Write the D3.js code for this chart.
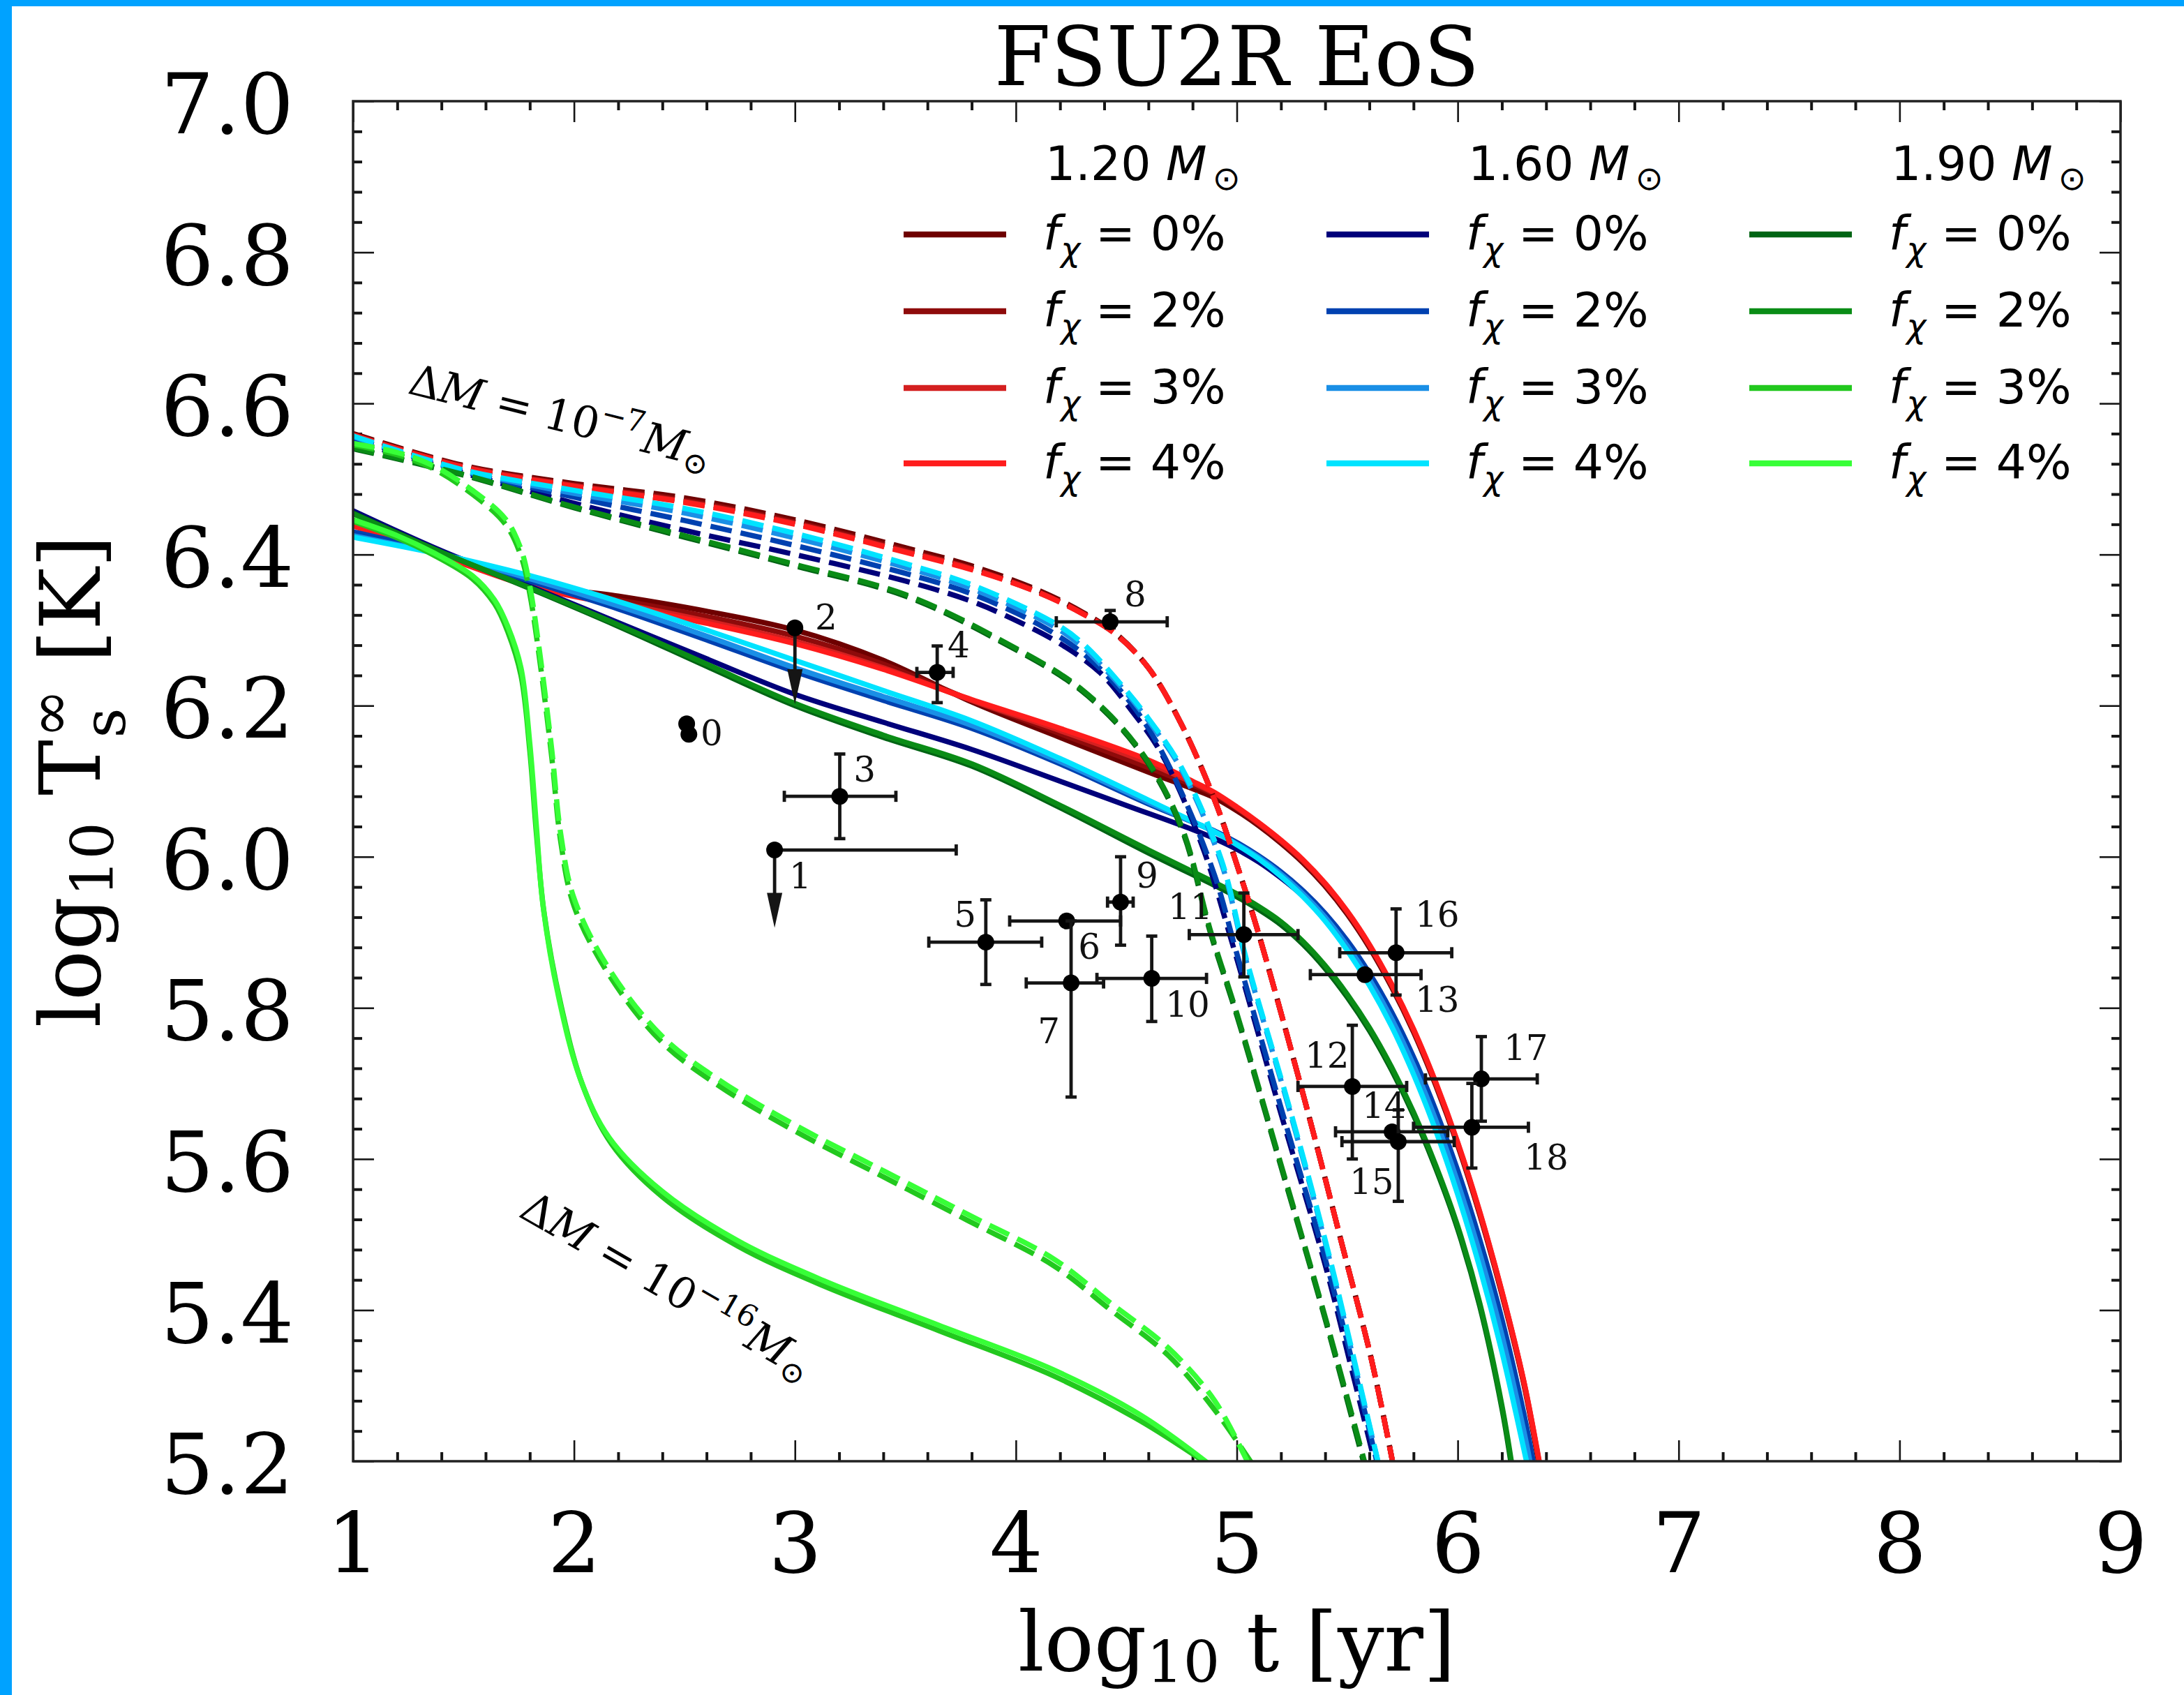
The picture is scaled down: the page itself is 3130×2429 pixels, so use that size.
<!DOCTYPE html>
<html>
<head>
<meta charset="utf-8">
<script src="https://cdn.jsdelivr.net/npm/d3@7"></script>
<style>
  html, body { margin: 0; padding: 0; background: #ffffff; }
  svg { display: block; }
</style>
</head>
<body>
<svg id="chart" width="3130" height="2429"></svg>
<script>
// ---------------- axis ticks ----------------
const xTickValues = [1, 2, 3, 4, 5, 6, 7, 8, 9];
const yTickValues = [5.2, 5.4, 5.6, 5.8, 6.0, 6.2, 6.4, 6.6, 6.8, 7.0];

// ---------------- legend categories ----------------
const starMasses = ["1.20", "1.60", "1.90"];
const darkFractions = ["0%", "2%", "3%", "4%"];

// ---------------- cooling tracks, envelope ΔM = 1e-16 Msun (solid) ----------------
// [log10 t (yr), log10 Ts (K)]
const solid_120_0 = [[1.0,6.445],[1.4,6.402],[1.8,6.362],[2.2,6.345],[2.6,6.325],[3.0,6.300],[3.4,6.260],[3.8,6.205],[4.2,6.158],[4.6,6.112],[4.8,6.090],[4.9,6.078],[5.0,6.061],[5.1,6.041],[5.2,6.018],[5.3,5.992],[5.4,5.961],[5.5,5.924],[5.6,5.880],[5.7,5.828],[5.8,5.768],[5.9,5.698],[6.0,5.618],[6.1,5.526],[6.2,5.421],[6.3,5.301],[6.368,5.195]];
const solid_120_2 = [[1.0,6.443],[1.4,6.400],[1.8,6.360],[2.2,6.340],[2.6,6.318],[3.0,6.292],[3.4,6.255],[3.8,6.207],[4.2,6.163],[4.6,6.118],[4.8,6.095],[4.9,6.082],[5.0,6.064],[5.1,6.043],[5.2,6.020],[5.3,5.994],[5.4,5.963],[5.5,5.926],[5.6,5.882],[5.7,5.830],[5.8,5.770],[5.9,5.700],[6.0,5.620],[6.1,5.528],[6.2,5.423],[6.3,5.303],[6.37,5.195]];
const solid_120_3 = [[1.0,6.440],[1.4,6.399],[1.8,6.359],[2.2,6.336],[2.6,6.312],[3.0,6.285],[3.4,6.250],[3.8,6.207],[4.2,6.167],[4.6,6.124],[4.8,6.098],[4.9,6.084],[5.0,6.065],[5.1,6.044],[5.2,6.021],[5.3,5.995],[5.4,5.964],[5.5,5.927],[5.6,5.883],[5.7,5.831],[5.8,5.771],[5.9,5.701],[6.0,5.621],[6.1,5.529],[6.2,5.424],[6.3,5.304],[6.371,5.195]];
const solid_120_4 = [[1.0,6.438],[1.4,6.398],[1.8,6.358],[2.2,6.333],[2.6,6.309],[3.0,6.282],[3.4,6.248],[3.8,6.208],[4.2,6.170],[4.6,6.128],[4.8,6.100],[4.9,6.085],[5.0,6.066],[5.1,6.045],[5.2,6.022],[5.3,5.996],[5.4,5.965],[5.5,5.928],[5.6,5.884],[5.7,5.832],[5.8,5.772],[5.9,5.702],[6.0,5.622],[6.1,5.530],[6.2,5.425],[6.3,5.305],[6.372,5.195]];

const solid_160_0 = [[1.0,6.458],[1.4,6.405],[1.8,6.358],[2.2,6.310],[2.6,6.262],[3.0,6.215],[3.4,6.178],[3.8,6.142],[4.2,6.100],[4.5,6.068],[4.8,6.036],[4.9,6.024],[5.0,6.010],[5.1,5.993],[5.2,5.972],[5.3,5.948],[5.4,5.918],[5.5,5.882],[5.6,5.838],[5.7,5.786],[5.8,5.725],[5.9,5.654],[6.0,5.572],[6.1,5.478],[6.2,5.370],[6.3,5.240],[6.33,5.195]];
const solid_160_2 = [[1.0,6.430],[1.4,6.402],[1.8,6.365],[2.2,6.328],[2.6,6.287],[3.0,6.245],[3.4,6.207],[3.8,6.170],[4.2,6.123],[4.6,6.070],[4.8,6.046],[4.9,6.034],[5.0,6.019],[5.1,6.001],[5.2,5.980],[5.3,5.955],[5.4,5.925],[5.5,5.889],[5.6,5.846],[5.7,5.795],[5.8,5.735],[5.9,5.665],[6.0,5.585],[6.1,5.493],[6.2,5.388],[6.3,5.262],[6.345,5.195]];
const solid_160_3 = [[1.0,6.425],[1.4,6.400],[1.8,6.368],[2.2,6.332],[2.6,6.292],[3.0,6.250],[3.4,6.212],[3.8,6.174],[4.2,6.126],[4.6,6.072],[4.8,6.046],[4.9,6.033],[5.0,6.017],[5.1,5.999],[5.2,5.977],[5.3,5.951],[5.4,5.920],[5.5,5.882],[5.6,5.838],[5.7,5.786],[5.8,5.724],[5.9,5.652],[6.0,5.569],[6.1,5.475],[6.2,5.367],[6.3,5.239],[6.33,5.195]];
const solid_160_4 = [[1.0,6.423],[1.4,6.400],[1.8,6.372],[2.2,6.338],[2.6,6.300],[3.0,6.260],[3.4,6.220],[3.8,6.180],[4.2,6.130],[4.6,6.075],[4.8,6.047],[4.9,6.033],[5.0,6.016],[5.1,5.997],[5.2,5.974],[5.3,5.947],[5.4,5.915],[5.5,5.876],[5.6,5.830],[5.7,5.776],[5.8,5.712],[5.9,5.638],[6.0,5.553],[6.1,5.456],[6.2,5.345],[6.3,5.215],[6.315,5.195]];

const solid_190_0 = [[1.0,6.455],[1.4,6.403],[1.8,6.355],[2.2,6.305],[2.6,6.252],[3.0,6.200],[3.4,6.158],[3.8,6.120],[4.2,6.065],[4.6,6.005],[4.9,5.962],[5.0,5.947],[5.1,5.930],[5.2,5.910],[5.3,5.884],[5.4,5.852],[5.5,5.814],[5.6,5.770],[5.7,5.718],[5.8,5.658],[5.9,5.588],[6.0,5.507],[6.1,5.405],[6.2,5.270],[6.245,5.190]];
const solid_190_2 = [[1.0,6.454],[1.4,6.403],[1.8,6.356],[2.2,6.307],[2.6,6.255],[3.0,6.203],[3.4,6.161],[3.8,6.123],[4.2,6.068],[4.6,6.009],[4.9,5.966],[5.0,5.951],[5.1,5.934],[5.2,5.914],[5.3,5.888],[5.4,5.856],[5.5,5.818],[5.6,5.774],[5.7,5.722],[5.8,5.662],[5.9,5.592],[6.0,5.511],[6.1,5.409],[6.2,5.274],[6.248,5.190]];
const solid_190_3 = [[1.0,6.444],[1.2,6.422],[1.36,6.400],[1.54,6.368],[1.64,6.335],[1.70,6.298],[1.76,6.240],[1.80,6.140],[1.83,6.030],[1.865,5.925],[1.94,5.805],[2.04,5.697],[2.17,5.620],[2.4,5.550],[2.74,5.485],[3.13,5.432],[3.65,5.373],[4.17,5.313],[4.56,5.254],[4.9,5.190]];
const solid_190_4 = [[1.0,6.446],[1.2,6.425],[1.36,6.403],[1.54,6.372],[1.64,6.340],[1.70,6.305],[1.76,6.250],[1.80,6.150],[1.83,6.040],[1.86,5.935],[1.93,5.815],[2.03,5.705],[2.16,5.628],[2.4,5.557],[2.74,5.492],[3.13,5.439],[3.65,5.380],[4.17,5.321],[4.56,5.262],[4.88,5.195]];

// ---------------- cooling tracks, envelope ΔM = 1e-7 Msun (dashed) ----------------
const dashed_120_0 = [[1.0,6.560],[1.5,6.518],[2.0,6.494],[2.5,6.475],[3.0,6.446],[3.5,6.409],[3.8,6.385],[4.1,6.353],[4.3,6.324],[4.45,6.296],[4.6,6.250],[4.75,6.175],[4.9,6.075],[5.0,5.990],[5.1,5.897],[5.33,5.653],[5.47,5.494],[5.61,5.334],[5.71,5.192]];
const dashed_120_2 = [[1.0,6.559],[1.5,6.517],[2.0,6.492],[2.5,6.472],[3.0,6.443],[3.5,6.406],[3.8,6.382],[4.1,6.351],[4.3,6.323],[4.45,6.295],[4.6,6.250],[4.75,6.175],[4.9,6.075],[5.0,5.990],[5.1,5.897],[5.33,5.653],[5.47,5.494],[5.61,5.334],[5.71,5.192]];
const dashed_120_3 = [[1.0,6.558],[1.5,6.516],[2.0,6.491],[2.5,6.470],[3.0,6.441],[3.5,6.404],[3.8,6.381],[4.1,6.350],[4.3,6.322],[4.45,6.295],[4.6,6.250],[4.75,6.175],[4.9,6.075],[5.0,5.990],[5.1,5.897],[5.33,5.653],[5.47,5.494],[5.61,5.334],[5.71,5.192]];
const dashed_120_4 = [[1.0,6.558],[1.5,6.515],[2.0,6.490],[2.5,6.469],[3.0,6.440],[3.5,6.403],[3.8,6.380],[4.1,6.350],[4.3,6.322],[4.45,6.295],[4.6,6.250],[4.75,6.175],[4.9,6.075],[5.0,5.990],[5.1,5.897],[5.33,5.653],[5.47,5.494],[5.61,5.334],[5.71,5.192]];

const dashed_160_0 = [[1.0,6.550],[1.5,6.508],[2.0,6.468],[2.5,6.432],[3.0,6.400],[3.5,6.365],[3.8,6.338],[4.02,6.310],[4.2,6.282],[4.38,6.244],[4.52,6.195],[4.66,6.136],[4.84,6.017],[4.98,5.885],[5.2,5.660],[5.4,5.460],[5.53,5.310],[5.63,5.192]];
const dashed_160_2 = [[1.0,6.554],[1.5,6.510],[2.0,6.476],[2.5,6.445],[3.0,6.412],[3.5,6.375],[3.8,6.348],[4.1,6.308],[4.3,6.270],[4.45,6.228],[4.6,6.170],[4.75,6.085],[4.9,5.975],[5.0,5.872],[5.2,5.668],[5.4,5.468],[5.54,5.312],[5.64,5.192]];
const dashed_160_3 = [[1.0,6.556],[1.5,6.511],[2.0,6.481],[2.5,6.455],[3.0,6.422],[3.5,6.383],[3.8,6.355],[4.17,6.305],[4.3,6.278],[4.47,6.227],[4.6,6.180],[4.75,6.115],[4.93,5.992],[5.04,5.865],[5.25,5.653],[5.42,5.467],[5.55,5.308],[5.645,5.192]];
const dashed_160_4 = [[1.0,6.557],[1.5,6.512],[2.0,6.485],[2.5,6.461],[3.0,6.428],[3.5,6.388],[3.8,6.360],[4.17,6.310],[4.3,6.283],[4.47,6.230],[4.6,6.183],[4.75,6.118],[4.93,5.996],[5.04,5.868],[5.25,5.656],[5.42,5.470],[5.55,5.311],[5.645,5.192]];

const dashed_190_0 = [[1.0,6.540],[1.5,6.505],[2.0,6.462],[2.5,6.423],[3.0,6.385],[3.5,6.345],[3.93,6.285],[4.3,6.219],[4.57,6.136],[4.75,6.037],[4.88,5.900],[5.0,5.790],[5.19,5.600],[5.40,5.388],[5.58,5.192]];
const dashed_190_2 = [[1.0,6.541],[1.5,6.506],[2.0,6.463],[2.5,6.425],[3.0,6.387],[3.5,6.347],[3.93,6.287],[4.3,6.221],[4.57,6.138],[4.75,6.040],[4.88,5.903],[5.0,5.793],[5.19,5.603],[5.40,5.391],[5.585,5.192]];
const dashed_190_3 = [[1.0,6.545],[1.2,6.532],[1.36,6.514],[1.54,6.480],[1.69,6.440],[1.76,6.398],[1.80,6.348],[1.85,6.249],[1.90,6.130],[1.94,6.020],[2.0,5.935],[2.16,5.843],[2.4,5.754],[2.66,5.696],[3.0,5.637],[3.39,5.578],[3.78,5.519],[4.17,5.459],[4.43,5.400],[4.69,5.340],[4.9,5.268],[5.08,5.192]];
const dashed_190_4 = [[1.0,6.547],[1.2,6.535],[1.36,6.518],[1.54,6.485],[1.69,6.447],[1.76,6.407],[1.80,6.358],[1.85,6.259],[1.90,6.140],[1.94,6.030],[2.0,5.945],[2.16,5.851],[2.4,5.762],[2.66,5.704],[3.0,5.645],[3.39,5.586],[3.78,5.527],[4.17,5.468],[4.43,5.409],[4.69,5.350],[4.9,5.280],[5.06,5.192]];

// ---------------- observed neutron stars ----------------
// [label, log t, log Ts, t low, t high, Ts low, Ts high, upper limit]
const observations = [
  ["0",  2.510, 6.176, null, null, null, null, false],
  [null, 2.520, 6.162, null, null, null, null, false],
  ["1",  2.908, 6.009, 2.908, 3.730, 5.906, null, true],
  ["2",  3.000, 6.303, null, null, 6.202, null, true],
  ["3",  3.203, 6.080, 2.952, 3.457, 6.024, 6.136, false],
  ["4",  3.644, 6.244, 3.552, 3.716, 6.204, 6.279, false],
  ["5",  3.864, 5.887, 3.606, 4.117, 5.831, 5.943, false],
  ["6",  4.230, 5.915, 3.972, 4.474, null, null, false],
  ["7",  4.250, 5.833, 4.047, 4.397, 5.682, 5.915, false],
  ["8",  4.427, 6.311, 4.183, 4.685, 6.303, 6.326, false],
  ["9",  4.474, 5.940, 4.415, 4.531, 5.883, 6.000, false],
  ["10", 4.615, 5.839, 4.367, 4.863, 5.782, 5.895, false],
  ["11", 5.032, 5.897, 4.785, 5.277, 5.841, 5.952, false],
  ["12", 5.523, 5.696, 5.277, 5.769, 5.600, 5.777, false],
  ["13", 5.580, 5.844, 5.333, 5.834, null, null, false],
  ["14", 5.703, 5.636, 5.447, 5.955, null, null, false],
  ["15", 5.731, 5.623, 5.476, 5.984, 5.544, 5.665, false],
  ["16", 5.721, 5.873, 5.466, 5.973, 5.817, 5.931, false],
  ["17", 6.107, 5.706, 5.854, 6.360, 5.650, 5.762, false],
  ["18", 6.064, 5.642, 5.800, 6.320, 5.588, 5.700, false]
];
// where each source number is written (left end, baseline) in data units
const observationLabelAt = {
  "0": [2.573, 6.148], "1": [2.974, 5.958], "2": [3.091, 6.301], "3": [3.265, 6.100],
  "4": [3.691, 6.264], "5": [3.720, 5.907], "6": [4.282, 5.865], "7": [4.099, 5.753],
  "8": [4.490, 6.331], "9": [4.544, 5.959], "10": [4.677, 5.788], "11": [4.689, 5.918],
  "12": [5.308, 5.721], "13": [5.807, 5.795], "14": [5.567, 5.654], "15": [5.510, 5.554],
  "16": [5.807, 5.907], "17": [6.208, 5.731], "18": [6.300, 5.586]
};

// envelope annotations: exponent, centre [log t, log Ts], rotation in degrees
const envelopeNotes = [
  { exp: "\u22127",  at: [1.938, 6.582], angle: 14 },
  { exp: "\u221216", at: [2.421, 5.432], angle: 30 }
];

// ---------------- styling ----------------
const palette = [
  ["#6e0000", "#8e0b0b", "#d42020", "#ff1c1c"],   // 1.20 Msun
  ["#00007a", "#0041b0", "#1a8fe6", "#00e3ff"],   // 1.60 Msun
  ["#006414", "#0a8c16", "#22c81e", "#37ff37"]    // 1.90 Msun
];

const solidTracks = [
  [solid_120_0, solid_120_2, solid_120_3, solid_120_4],
  [solid_160_0, solid_160_2, solid_160_3, solid_160_4],
  [solid_190_0, solid_190_2, solid_190_3, solid_190_4]
];
const dashedTracks = [
  [dashed_120_0, dashed_120_2, dashed_120_3, dashed_120_4],
  [dashed_160_0, dashed_160_2, dashed_160_3, dashed_160_4],
  [dashed_190_0, dashed_190_2, dashed_190_3, dashed_190_4]
];

const SERIF = "'DejaVu Serif', serif";
const SANS = "'DejaVu Sans', sans-serif";
const INK = "#151515";
const TRACK_WIDTH = 7.5;

// ---------------- layout ----------------
const W = 3130, H = 2429;
const X0 = 506, X1 = 3039, Y0 = 145, Y1 = 2094;

const svg = d3.select("#chart").attr("width", W).attr("height", H);
svg.append("rect").attr("width", W).attr("height", H).attr("fill", "#ffffff");
// page accent along the top and left edges
svg.append("rect").attr("x", 0).attr("y", 0).attr("width", W).attr("height", 9).attr("fill", "#00a2ff");
svg.append("rect").attr("x", 0).attr("y", 0).attr("width", 17).attr("height", H).attr("fill", "#00a2ff");

const x = d3.scaleLinear().domain([1, 9]).range([X0, X1]);
const y = d3.scaleLinear().domain([5.2, 7.0]).range([Y1, Y0]);

// ---------------- small helper for math-like labels ----------------
// runs: {s, it, sc (size factor), rise (em of base size, + up), dx (em), back (step back over previous run)}
function mathText(parent, runs, family, size) {
  const t = parent.append("text").attr("font-family", family).attr("font-size", size).attr("fill", "#000");
  let cur = 0, prev = null;
  runs.forEach(r => {
    const sz = size * (r.sc || 1);
    const rise = r.rise || 0;
    const ts = t.append("tspan").attr("font-size", sz).text(r.s);
    if (r.it) ts.attr("font-style", "italic");
    const dy = (cur - rise) * size;
    if (Math.abs(dy) > 1e-6) ts.attr("dy", dy);
    cur = rise;
    let dx = (r.dx || 0) * size;
    if (r.back && prev) dx -= prev.getComputedTextLength();
    if (dx) ts.attr("dx", dx);
    prev = ts.node();
  });
  return t;
}
function centerText(t) {
  const bb = t.node().getBBox();
  t.attr("x", -bb.width / 2);
  return t;
}

// ---------------- axes ----------------
const minorX = d3.range(1, 9.0001, 0.2).filter(v => Math.abs(v - Math.round(v)) > 1e-6);
const minorY = d3.range(5.2, 7.0001, 0.04).filter(v => Math.abs(v * 5 - Math.round(v * 5)) > 1e-6);

function styleTicks(g, w) {
  g.select(".domain").remove();
  g.selectAll("line").attr("stroke", INK).attr("stroke-width", w);
}

const axes = svg.append("g");
// major ticks with labels
const gB = axes.append("g").attr("transform", `translate(0,${Y1})`)
  .call(d3.axisBottom(x).tickValues(xTickValues).tickFormat(d3.format("d")).tickSizeInner(-30).tickSizeOuter(0).tickPadding(74));
const gL = axes.append("g").attr("transform", `translate(${X0},0)`)
  .call(d3.axisLeft(y).tickValues(yTickValues).tickFormat(d3.format(".1f")).tickSizeInner(-30).tickSizeOuter(0).tickPadding(85));
const gT = axes.append("g").attr("transform", `translate(0,${Y0})`)
  .call(d3.axisTop(x).tickValues(xTickValues).tickFormat("").tickSizeInner(-30).tickSizeOuter(0));
const gR = axes.append("g").attr("transform", `translate(${X1},0)`)
  .call(d3.axisRight(y).tickValues(yTickValues).tickFormat("").tickSizeInner(-30).tickSizeOuter(0));
[gB, gL, gT, gR].forEach(g => styleTicks(g, 2.6));
[gB, gL].forEach(g => g.selectAll("text").attr("font-family", SERIF).attr("font-size", 120).attr("fill", "#000"));
gL.selectAll("text").attr("dy", "0.38em");

// minor ticks
const mB = axes.append("g").attr("transform", `translate(0,${Y1})`)
  .call(d3.axisBottom(x).tickValues(minorX).tickFormat("").tickSizeInner(-13).tickSizeOuter(0));
const mT = axes.append("g").attr("transform", `translate(0,${Y0})`)
  .call(d3.axisTop(x).tickValues(minorX).tickFormat("").tickSizeInner(-13).tickSizeOuter(0));
const mL = axes.append("g").attr("transform", `translate(${X0},0)`)
  .call(d3.axisLeft(y).tickValues(minorY).tickFormat("").tickSizeInner(-13).tickSizeOuter(0));
const mR = axes.append("g").attr("transform", `translate(${X1},0)`)
  .call(d3.axisRight(y).tickValues(minorY).tickFormat("").tickSizeInner(-13).tickSizeOuter(0));
[mB, mT, mL, mR].forEach(g => styleTicks(g, 4));

// ---------------- cooling curves ----------------
svg.append("clipPath").attr("id", "plotClip")
  .append("rect").attr("x", X0).attr("y", Y0).attr("width", X1 - X0).attr("height", Y1 - Y0);
const plot = svg.append("g").attr("clip-path", "url(#plotClip)");

const line = d3.line().x(d => x(d[0])).y(d => y(d[1])).curve(d3.curveCatmullRom.alpha(0.5));

solidTracks.forEach((group, m) => group.forEach((track, f) => {
  plot.append("path").attr("d", line(track)).attr("fill", "none")
    .attr("stroke", palette[m][f]).attr("stroke-width", TRACK_WIDTH)
    .attr("stroke-linejoin", "round").attr("stroke-linecap", "butt");
}));
dashedTracks.forEach((group, m) => group.forEach((track, f) => {
  plot.append("path").attr("d", line(track)).attr("fill", "none")
    .attr("stroke", palette[m][f]).attr("stroke-width", TRACK_WIDTH)
    .attr("stroke-dasharray", "31,13").attr("stroke-linecap", "butt");
}));

// ---------------- observations ----------------
const obs = svg.append("g");
const CAP = 8, BAR = 4.8;
observations.forEach(o => {
  const [label, lt, lT, tLo, tHi, TLo, THi, upper] = o;
  const px = x(lt), py = y(lT);
  if (tLo !== null) {
    obs.append("line").attr("x1", x(tLo)).attr("x2", x(tHi)).attr("y1", py).attr("y2", py)
      .attr("stroke", INK).attr("stroke-width", BAR);
    [tLo, tHi].forEach(v => {
      if (v !== lt) obs.append("line").attr("x1", x(v)).attr("x2", x(v)).attr("y1", py - CAP).attr("y2", py + CAP)
        .attr("stroke", INK).attr("stroke-width", BAR);
    });
  }
  if (upper) {
    const tip = y(TLo);
    obs.append("line").attr("x1", px).attr("x2", px).attr("y1", py).attr("y2", tip - 40)
      .attr("stroke", INK).attr("stroke-width", BAR);
    obs.append("path").attr("d", `M${px - 11},${tip - 50}L${px + 11},${tip - 50}L${px},${tip}Z`).attr("fill", INK);
  } else if (TLo !== null) {
    obs.append("line").attr("x1", px).attr("x2", px).attr("y1", y(TLo)).attr("y2", y(THi))
      .attr("stroke", INK).attr("stroke-width", BAR);
    [TLo, THi].forEach(v => obs.append("line").attr("x1", px - CAP).attr("x2", px + CAP).attr("y1", y(v)).attr("y2", y(v))
      .attr("stroke", INK).attr("stroke-width", BAR));
  }
  obs.append("circle").attr("cx", px).attr("cy", py).attr("r", 12).attr("fill", "#000");
});
Object.entries(observationLabelAt).forEach(([label, pos]) => {
  obs.append("text").attr("x", x(pos[0])).attr("y", y(pos[1]))
    .attr("font-family", SERIF).attr("font-size", 50).attr("fill", "#111").text(label);
});

// ---------------- envelope annotations ----------------
envelopeNotes.forEach(n => {
  const g = svg.append("g").attr("transform", `translate(${x(n.at[0])},${y(n.at[1])}) rotate(${n.angle})`);
  const t = mathText(g, [
    { s: "\u0394" }, { s: "M", it: 1 }, { s: " = 10" },
    { s: n.exp, sc: 0.7, rise: 0.42 },
    { s: "M", it: 1, dx: 0.03 }, { s: "\u2299", sc: 0.7, rise: -0.2 }
  ], SERIF, 62);
  centerText(t).attr("y", 20);
});

// ---------------- legend ----------------
const legend = svg.append("g");
const legendCols = [1295, 1901, 2507];
const legendRows = [336, 446, 556, 664];
starMasses.forEach((mass, m) => {
  const cx = legendCols[m];
  const h = mathText(legend, [{ s: mass + " " }, { s: "M", it: 1 }, { s: "\u2299", sc: 0.7, rise: -0.2, dx: 0.12 }], SANS, 68);
  h.attr("x", cx + 203).attr("y", 258);
  darkFractions.forEach((frac, f) => {
    const ry = legendRows[f];
    legend.append("line").attr("x1", cx).attr("x2", cx + 147).attr("y1", ry).attr("y2", ry)
      .attr("stroke", palette[m][f]).attr("stroke-width", 8.5);
    const t = mathText(legend, [{ s: "f", it: 1 }, { s: "\u03c7", it: 1, sc: 0.7, rise: -0.24, dx: 0.02 }, { s: " = " + frac }], SANS, 68);
    t.attr("x", cx + 200).attr("y", ry + 22);
  });
});

// ---------------- frame, title, axis titles ----------------
svg.append("rect").attr("x", X0).attr("y", Y0).attr("width", X1 - X0).attr("height", Y1 - Y0)
  .attr("fill", "none").attr("stroke", "#222").attr("stroke-width", 3.5);

svg.append("text").attr("x", (X0 + X1) / 2).attr("y", 122).attr("text-anchor", "middle")
  .attr("font-family", SERIF).attr("font-size", 117).attr("fill", "#000").text("FSU2R EoS");

const xTitle = svg.append("g").attr("transform", `translate(${(X0 + X1) / 2},2394)`);
centerText(mathText(xTitle, [{ s: "log" }, { s: "10", sc: 0.7, rise: -0.14 }, { s: " t [yr]" }], SERIF, 118));

const yTitle = svg.append("g").attr("transform", `translate(143,${(Y0 + Y1) / 2}) rotate(-90)`);
centerText(mathText(yTitle, [
  { s: "log" }, { s: "10", sc: 0.7, rise: -0.16 }, { s: " T" },
  { s: "\u221e", sc: 0.7, rise: 0.36, dx: 0.02 },
  { s: "s", sc: 0.7, rise: -0.3, back: 1 },
  { s: " [K]", rise: 0, dx: 0.22 }
], SERIF, 120));
</script>
</body>
</html>
